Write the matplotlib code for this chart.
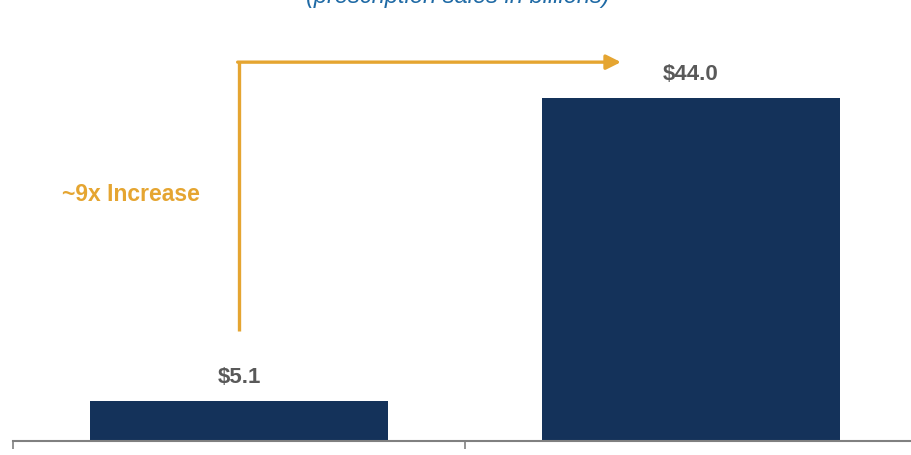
import matplotlib.pyplot as plt

plt.rcParams['font.family'] = ['Liberation Sans', 'DejaVu Sans']

categories = ['Before', 'After']
sales = [5.1, 44.0]
value_labels = ['$5.1', '$44.0']
subtitle = '(prescription sales in billions)'
arrow_text = '~9x Increase'

BAR = '#14325a'
GOLD = '#e5a531'
GREY = '#595959'

fig = plt.figure(figsize=(9.11, 4.56), dpi=100)
# axes spans past the right edge so the second category is as wide as the first
ax = fig.add_axes([13 / 911, 14 / 456, 904 / 911, 442 / 456])

x = range(len(categories))
ax.bar(x, sales, width=0.66, color=BAR, zorder=2)
ax.set_xlim(-0.5, 1.5)
ax.set_ylim(0, 56.7)

for i, (v, lab) in enumerate(zip(sales, value_labels)):
    ax.text(i, v + 2.45, lab, ha='center', va='baseline', fontsize=16,
            fontweight='bold', color=GREY)

# arrow: up from the small bar, then across to the big one
ax.plot([0, 0], [14.1, 48.6], color=GOLD, lw=2.4, solid_capstyle='butt')
ax.annotate('', xy=(0.845, 48.6), xytext=(-0.003, 48.6),
            arrowprops=dict(arrowstyle='-|>', color=GOLD, lw=2.4,
                            mutation_scale=22, shrinkA=0, shrinkB=0))
ax.text(-0.24, 31.8, arrow_text, ha='center', va='center', fontsize=16.5,
        fontweight='bold', color=GOLD)

fig.text(0.503, 1 - 3 / 456, subtitle, ha='center', va='baseline',
         fontsize=17, style='italic', color='#1f6aa5')

for s in ['top', 'right', 'left']:
    ax.spines[s].set_visible(False)
ax.spines['bottom'].set_color('#808080')
ax.spines['bottom'].set_linewidth(1.5)
ax.set_yticks([])
ax.set_xticks([-0.5, 0.5, 1.5])
ax.set_xticklabels([])
ax.tick_params(axis='x', length=6, width=1.2, color='#808080')

fig.savefig('out.png', dpi=100)
